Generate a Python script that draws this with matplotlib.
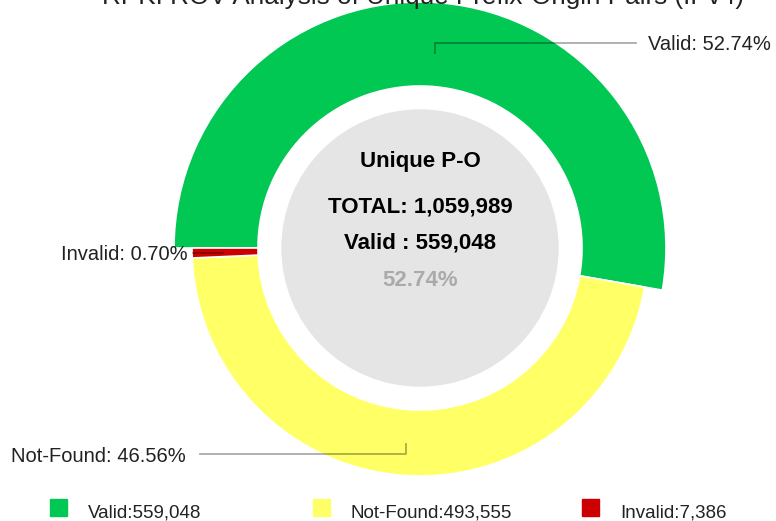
import numpy as np
import matplotlib
matplotlib.use("Agg")
import matplotlib.pyplot as plt
from matplotlib.patches import Circle, Rectangle

plt.rcParams['font.family'] = ['Liberation Sans', 'DejaVu Sans']

title = "RPKI ROV Analysis of Unique Prefix-Origin Pairs (IPv4)"
labels = ["Valid", "Not-Found", "Invalid"]
counts = [559048, 493555, 7386]
colors = ["#00c853", "#ffff66", "#cc0000"]

total = sum(counts)
pcts = [100.0 * c / total for c in counts]

W, H = 776, 521
fig = plt.figure(figsize=(W / 100, H / 100), dpi=100)
ax = fig.add_axes([0, 0, 1, 1])

cx, cy = 420, 248
R, r_in = 228, 162

# y axis is inverted below, so counterclock=True draws clockwise on screen
wedges, _ = ax.pie(counts, colors=colors, startangle=180, counterclock=True,
                   radius=R, center=(cx, cy),
                   wedgeprops=dict(width=R - r_in, edgecolor="white", linewidth=1.2))
# the valid slice is drawn larger (highlighted)
wedges[0].set_radius(246)
wedges[0].set_width(246 - r_in)

ax.add_patch(Circle((cx, cy), 138, color="#e5e5e5", zorder=3))

ax.set_xlim(0, W)
ax.set_ylim(H, 0)
ax.axis("off")

# centre text
ax.text(cx, 167, "Unique P-O", ha="center", va="baseline", fontsize=16, fontweight="bold", zorder=4)
ax.text(cx, 212, "TOTAL: {:,}".format(total), ha="center", va="baseline", fontsize=16, fontweight="bold", zorder=4)
ax.text(cx, 248, "Valid : {:,}".format(counts[0]), ha="center", va="baseline", fontsize=16, fontweight="bold", zorder=4)
ax.text(cx, 286, "{:.2f}%".format(pcts[0]), ha="center", va="baseline", fontsize=16, fontweight="bold",
        color="#aaaaaa", zorder=4)

# slice labels with leader lines
line_kw = dict(color="black", alpha=0.33, lw=1.3, zorder=5)
ax.plot([435, 435, 636], [53, 43, 43], **line_kw)
ax.text(648, 50, "{}: {:.2f}%".format(labels[0], pcts[0]), ha="left", va="baseline", fontsize=14.5, color="#222222")

ax.plot([200, 406, 406], [454, 454, 444], **line_kw)
ax.text(11, 462, "{}: {:.2f}%".format(labels[1], pcts[1]), ha="left", va="baseline", fontsize=14.5, color="#222222")

ax.plot([193, 223], [253, 253], **line_kw)
ax.text(188, 260, "{}: {:.2f}%".format(labels[2], pcts[2]), ha="right", va="baseline", fontsize=14.5, color="#222222")

# title (cut off at the top edge)
ax.text(102, 4, title, ha="left", va="baseline", fontsize=18.8, color="#222222")

# legend
leg_x = [50, 313, 582]
for x, lab, c, col in zip(leg_x, labels, counts, colors):
    ax.add_patch(Rectangle((x, 499), 17, 17, color=col))
    ax.text(x + 38, 517, "{}:{:,}".format(lab, c), ha="left", va="baseline", fontsize=13.5, color="#222222")

fig.savefig("out.png", dpi=100)
